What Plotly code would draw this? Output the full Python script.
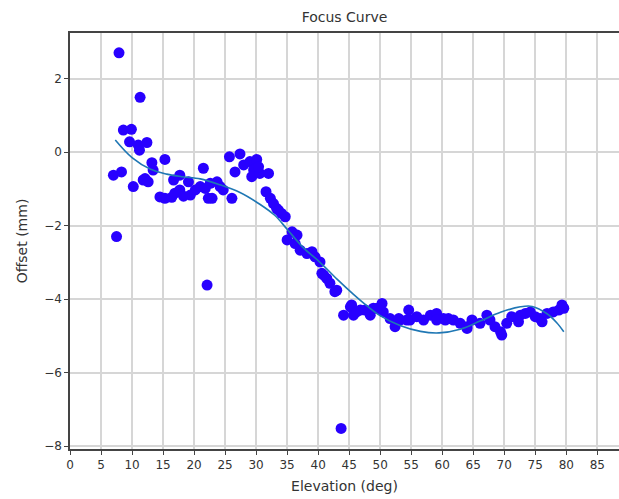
import plotly.graph_objects as go

elev = [7.9, 7.0, 8.3, 7.5, 11.3, 8.6, 9.9, 9.6, 11.0, 11.2, 12.4, 10.2, 12.1, 13.2, 15.3,
        11.8, 12.6, 13.4, 14.5, 15.3, 16.4, 16.9, 17.7, 18.3, 19.4, 20.2, 21.0, 16.7, 17.7,
        19.1, 21.5, 21.8, 22.3, 22.1, 43.7, 22.6, 23.7, 24.2, 24.7, 22.9, 26.1, 25.7, 27.4,
        26.6, 28.0, 29.0, 30.1, 29.6, 29.3, 30.6, 32.0, 30.4, 31.6, 32.3, 32.8, 33.3, 34.1,
        34.7, 33.6, 35.8, 36.6, 35.0, 36.3, 37.1, 38.2, 39.0, 39.5, 40.3, 40.6, 41.4, 41.9,
        43.0, 40.9, 42.7, 44.1, 45.4, 45.7, 46.8, 48.4, 48.9, 50.3, 50.5, 51.6, 52.4, 53.2,
        54.6, 54.8, 55.9, 57.0, 58.1, 59.1, 60.2, 61.8, 62.9, 64.0, 45.2, 46.2, 47.6, 49.5,
        53.0, 54.3, 59.1, 61.0, 60.5, 64.0, 64.8, 66.1, 67.2, 67.7, 68.5, 69.4, 69.6, 70.4,
        71.2, 72.3, 72.6, 73.4, 74.2, 75.0, 75.8, 76.1, 76.9, 77.9, 78.8, 79.3, 79.6]
offset = [2.7, -0.63, -0.54, -2.3, 1.49, 0.6, 0.62, 0.28, 0.19, 0.05, 0.26, -0.94, -0.72, -0.29, -0.2,
          -0.76, -0.81, -0.49, -1.22, -1.26, -1.23, -1.12, -1.03, -1.2, -1.17, -1.03, -0.94, -0.76, -0.63,
          -0.81, -0.44, -0.99, -1.26, -3.62, -7.52, -0.85, -0.81, -0.94, -1.03, -1.26, -1.26, -0.13, -0.05,
          -0.54, -0.35, -0.26, -0.2, -0.49, -0.67, -0.58, -0.58, -0.4, -1.08, -1.26, -1.4, -1.53, -1.67,
          -1.76, -1.58, -2.17, -2.26, -2.39, -2.49, -2.67, -2.76, -2.71, -2.85, -2.99, -3.3, -3.44, -3.57,
          -3.76, -3.35, -3.8, -4.44, -4.16, -4.44, -4.3, -4.44, -4.25, -4.12, -4.35, -4.53, -4.75, -4.57,
          -4.3, -4.57, -4.48, -4.57, -4.44, -4.39, -4.53, -4.57, -4.66, -4.75, -4.21, -4.35, -4.3, -4.25,
          -4.53, -4.57, -4.57, -4.53, -4.57, -4.8, -4.57, -4.66, -4.44, -4.57, -4.75, -4.89, -4.98, -4.66,
          -4.48, -4.62, -4.44, -4.39, -4.35, -4.48, -4.53, -4.62, -4.39, -4.35, -4.3, -4.16, -4.25]

fit_x = [7.3, 10, 13, 15.6, 18, 21, 24, 27.4, 30.6, 33, 35, 37.6, 40.3, 43, 45.7, 48, 50,
         53.2, 56.5, 59.5, 62.9, 66.1, 69.4, 72.6, 74.5, 76.9, 78.5, 79.6]
fit_y = [0.33, -0.15, -0.47, -0.6, -0.67, -0.73, -0.88, -1.1, -1.42, -1.72, -2.1, -2.6, -3.0,
         -3.45, -3.87, -4.2, -4.45, -4.72, -4.88, -4.92, -4.82, -4.6, -4.36, -4.21, -4.2, -4.4,
         -4.65, -4.89]

x_ticks = list(range(0, 90, 5))
y_ticks = [-8, -6, -4, -2, 0, 2]

fig = go.Figure()
fig.add_trace(go.Scatter(x=elev, y=offset, mode="markers",
                         marker=dict(size=11, color="rgb(40,0,255)", line=dict(width=0)),
                         showlegend=False))
fig.add_trace(go.Scatter(x=fit_x, y=fit_y, mode="lines", line=dict(color="#1f77b4", width=1.6, shape="spline"),
                         showlegend=False))

font = dict(family="DejaVu Sans", size=12, color="#333333")
fig.update_layout(
    width=619, height=499,
    margin=dict(l=70, r=0, t=33, b=50),
    paper_bgcolor="white", plot_bgcolor="white",
    font=font,
    title=dict(text="Focus Curve", x=0.5, xref="paper", xanchor="center", y=0.965, yanchor="middle",
               font=dict(family="DejaVu Sans", size=14, color="#333333")),
    xaxis=dict(range=[0, 88.5], tickvals=x_ticks, ticktext=[str(t) for t in x_ticks],
               showgrid=True, gridcolor="#d6d6d6", gridwidth=1.5,
               showline=True, linecolor="#444444", linewidth=1.5, mirror=True,
               ticks="outside", ticklen=4, tickcolor="#444444", zeroline=False,
               title=dict(text="Elevation (deg)", standoff=10)),
    yaxis=dict(range=[-8.08, 3.24], tickvals=y_ticks,
               showgrid=True, gridcolor="#d6d6d6", gridwidth=1.5,
               showline=True, linecolor="#444444", linewidth=1.5,
               ticks="outside", ticklen=4, tickcolor="#444444", zeroline=False,
               title=dict(text="Offset (mm)", standoff=13)),
)
fig.write_html("out.html")
